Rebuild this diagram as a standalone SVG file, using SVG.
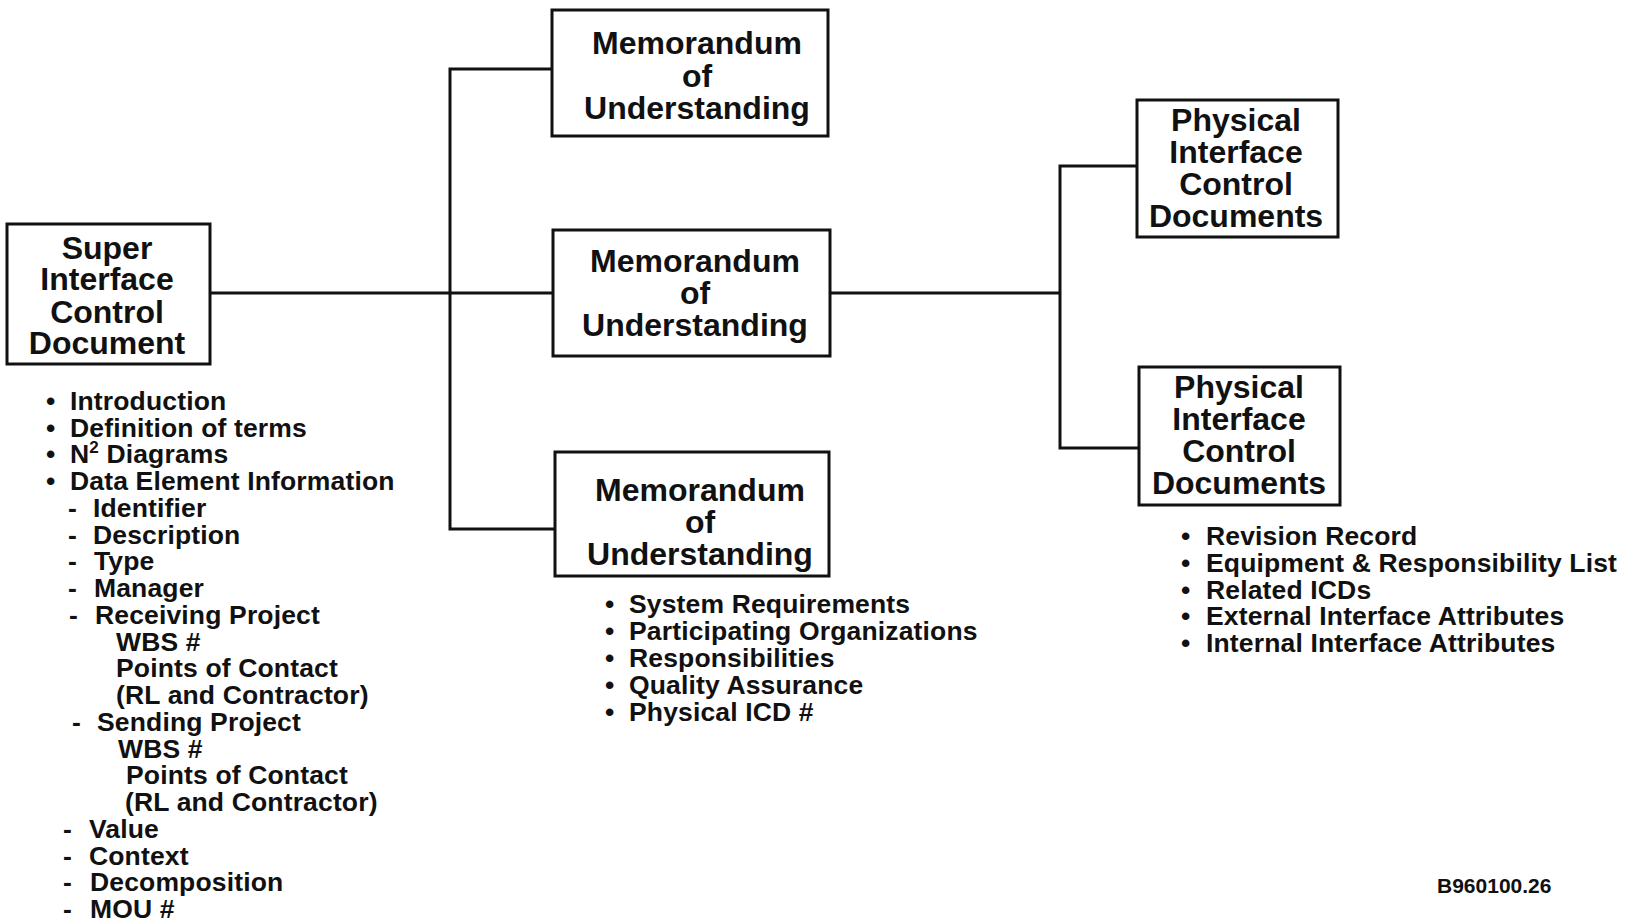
<svg xmlns="http://www.w3.org/2000/svg" width="1635" height="923" viewBox="0 0 1635 923">
<style>
.box{fill:#fff;stroke:#111;stroke-width:3}
.ln{fill:none;stroke:#111;stroke-width:3}
.t{font-family:"Liberation Sans",Arial,sans-serif;font-weight:bold;fill:#111;font-size:32px;text-anchor:middle}
.l{font-family:"Liberation Sans",Arial,sans-serif;font-weight:bold;fill:#111;font-size:26.5px;letter-spacing:0.15px}
.id{font-family:"Liberation Sans",Arial,sans-serif;font-weight:bold;fill:#111;font-size:21px}
</style>
<rect width="1635" height="923" fill="#fff"/>
<g id="connectors">
<polyline class="ln" points="211,293 553,293"/>
<polyline class="ln" points="552,69 450,69 450,529 555,529"/>
<polyline class="ln" points="831,293 1060,293"/>
<polyline class="ln" points="1137,166 1060,166 1060,448 1139,448"/>
</g>
<g id="super-icd">
<rect class="box" x="7" y="224" width="203" height="140"/>
<text class="t" x="107" y="259">Super</text>
<text class="t" x="107" y="290">Interface</text>
<text class="t" x="107" y="323">Control</text>
<text class="t" x="107" y="354">Document</text>
</g>
<g id="super-icd-list" class="l">
<text x="46" y="410">•</text><text x="70" y="410">Introduction</text>
<text x="46" y="437">•</text><text x="70" y="437">Definition of terms</text>
<text x="46" y="463">•</text><text x="70" y="463">N<tspan font-size="17" dy="-10">2</tspan><tspan dy="10"> Diagrams</tspan></text>
<text x="46" y="490">•</text><text x="70" y="490">Data Element Information</text>
<text x="68" y="517">-</text><text x="93" y="517">Identifier</text>
<text x="68" y="544">-</text><text x="93" y="544">Description</text>
<text x="68" y="570">-</text><text x="94" y="570">Type</text>
<text x="68" y="597">-</text><text x="94" y="597">Manager</text>
<text x="69" y="624">-</text><text x="95" y="624">Receiving Project</text>
<text x="116" y="651">WBS #</text>
<text x="116" y="677">Points of Contact</text>
<text x="116" y="704">(RL and Contractor)</text>
<text x="72" y="731">-</text><text x="97" y="731">Sending Project</text>
<text x="118" y="758">WBS #</text>
<text x="126" y="784">Points of Contact</text>
<text x="125" y="811">(RL and Contractor)</text>
<text x="63" y="838">-</text><text x="89" y="838">Value</text>
<text x="63" y="865">-</text><text x="89" y="865">Context</text>
<text x="63" y="891">-</text><text x="90" y="891">Decomposition</text>
<text x="63" y="918">-</text><text x="90" y="918">MOU #</text>
</g>
<g id="mou-1">
<rect class="box" x="552" y="10" width="276" height="126"/>
<text class="t" x="697" y="54">Memorandum</text>
<text class="t" x="697" y="87">of</text>
<text class="t" x="697" y="119">Understanding</text>
</g>
<g id="mou-2">
<rect class="box" x="553" y="230" width="277" height="126"/>
<text class="t" x="695" y="272">Memorandum</text>
<text class="t" x="695" y="304">of</text>
<text class="t" x="695" y="336">Understanding</text>
</g>
<g id="mou-3">
<rect class="box" x="555" y="452" width="274" height="124"/>
<text class="t" x="700" y="501">Memorandum</text>
<text class="t" x="700" y="533">of</text>
<text class="t" x="700" y="565">Understanding</text>
</g>
<g id="mou-list" class="l">
<text x="605" y="613">•</text><text x="629" y="613">System Requirements</text>
<text x="605" y="640">•</text><text x="629" y="640">Participating Organizations</text>
<text x="605" y="667">•</text><text x="629" y="667">Responsibilities</text>
<text x="605" y="694">•</text><text x="629" y="694">Quality Assurance</text>
<text x="605" y="721">•</text><text x="629" y="721">Physical ICD #</text>
</g>
<g id="phys-icd-1">
<rect class="box" x="1137" y="100" width="201" height="137"/>
<text class="t" x="1236" y="131">Physical</text>
<text class="t" x="1236" y="163">Interface</text>
<text class="t" x="1236" y="195">Control</text>
<text class="t" x="1236" y="227">Documents</text>
</g>
<g id="phys-icd-2">
<rect class="box" x="1139" y="367" width="201" height="138"/>
<text class="t" x="1239" y="398">Physical</text>
<text class="t" x="1239" y="430">Interface</text>
<text class="t" x="1239" y="462">Control</text>
<text class="t" x="1239" y="494">Documents</text>
</g>
<g id="phys-list" class="l">
<text x="1181" y="545">•</text><text x="1206" y="545">Revision Record</text>
<text x="1181" y="572">•</text><text x="1206" y="572">Equipment &amp; Responsibility List</text>
<text x="1181" y="599">•</text><text x="1206" y="599">Related ICDs</text>
<text x="1181" y="625">•</text><text x="1206" y="625">External Interface Attributes</text>
<text x="1181" y="652">•</text><text x="1206" y="652">Internal Interface Attributes</text>
</g>
<text class="id" x="1437" y="893">B960100.26</text>
</svg>
